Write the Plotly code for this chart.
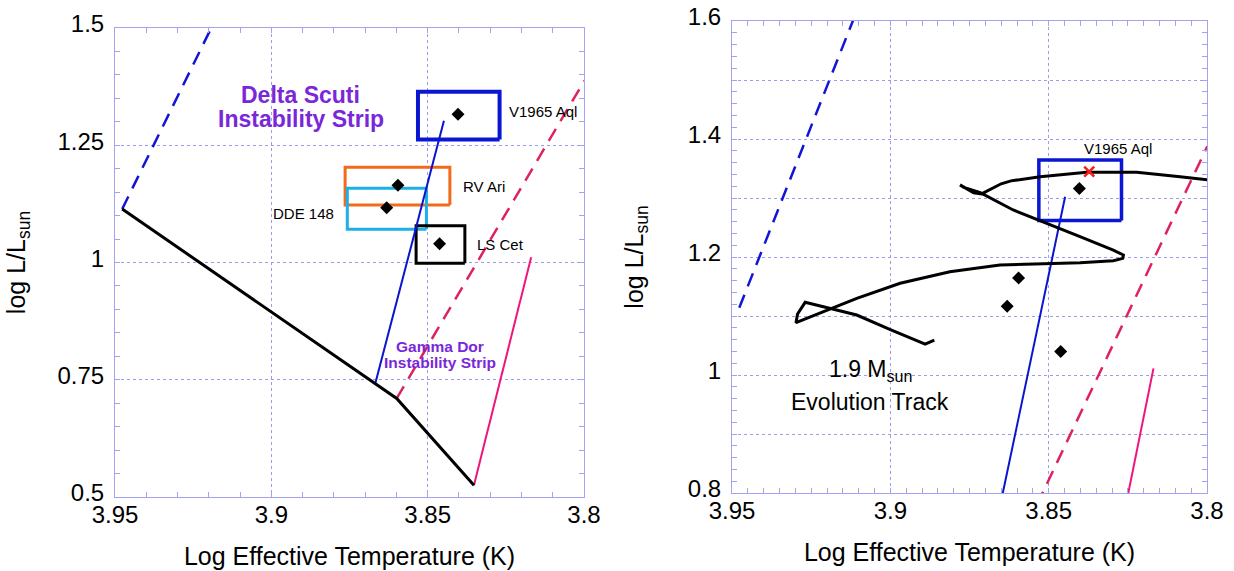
import plotly.graph_objects as go

# ---------------- data ----------------
star_names = ["V1965 Aql", "RV Ari", "DDE 148", "LS Cet"]
star_logT = [3.8403, 3.8595, 3.8631, 3.8462]
star_logL = [1.3160, 1.1646, 1.1165, 1.0398]

# error boxes (log Teff range, log L range)
box_Tlo = [3.8270, 3.8429, 3.8504, 3.8381]
box_Thi = [3.8531, 3.8764, 3.8757, 3.8537]
box_Llo = [1.2620, 1.1226, 1.0708, 0.9983]
box_Lhi = [1.3643, 1.2030, 1.1582, 1.0785]

# ZAMS
zams_T = [3.9477, 3.8668, 3.8599, 3.8352]
zams_L = [1.1140, 0.7410, 0.7102, 0.5250]
# Delta Scuti strip edges
ds_blue_T = [3.9477, 3.9100]
ds_blue_L = [1.1140, 1.6250]
ds_red_T = [3.8668, 3.8448]
ds_red_L = [0.7410, 1.3020]
# Gamma Dor strip edges
gd_blue_T = [3.8599, 3.7999]
gd_blue_L = [0.7102, 1.3875]
gd_red_T = [3.8352, 3.8169]
gd_red_L = [0.5250, 1.0113]

# 1.9 Msun evolution track
track_T = [3.8861, 3.8890, 3.9000, 3.9106, 3.9269, 3.9293, 3.9298, 3.9191,
           3.9106, 3.8969, 3.8812, 3.8654, 3.8506, 3.8401, 3.8296, 3.8266,
           3.8264, 3.8296, 3.8401, 3.8506, 3.8612, 3.8716, 3.8768, 3.8780,
           3.8737, 3.8712, 3.8688, 3.8650, 3.8619, 3.8527, 3.8380, 3.8222,
           3.8085, 3.7996]
track_L = [1.0593, 1.0525, 1.0770, 1.1017, 1.1232, 1.1034, 1.0886, 1.1113,
           1.1300, 1.1554, 1.1750, 1.1864, 1.1881, 1.1903, 1.1937, 1.1977,
           1.2034, 1.2118, 1.2344, 1.2571, 1.2797, 1.3090, 1.3179, 1.3222,
           1.3087, 1.3069, 1.3136, 1.3241, 1.3290, 1.3361, 1.3435, 1.3435,
           1.3361, 1.3305]
model_T = [3.8372]
model_L = [1.3446]

x_ticks = [3.95, 3.9, 3.85, 3.8]
x_ticktext = ["3.95", "3.9", "3.85", "3.8"]
yl_ticks = [0.5, 0.75, 1.0, 1.25, 1.5]
yl_ticktext = ["0.5", "0.75", "1", "1.25", "1.5"]
yr_ticks = [0.8, 0.9, 1.0, 1.1, 1.2, 1.3, 1.4, 1.5, 1.6]
yr_ticktext = ["0.8", "", "1", "", "1.2", "", "1.4", "", "1.6"]

# ---------------- styles ----------------
FONT = "Liberation Sans, Arial, Helvetica, sans-serif"
FRAME = "#a3a3f0"
GRID = "#9c9cec"
BLUE_D = "#1414d6"
BLUE = "#0a14cf"
PINK_D = "#de2260"
PINK = "#ef157c"
PURPLE = "#7a27da"
box_colors = ["#0b16d2", "#f26a1c", "#1cb0e6", "#000000"]
box_widths = [4, 3, 3, 3]

fig = go.Figure()

def add_line(T, L, color, width, dash, xa, ya):
    fig.add_trace(go.Scatter(x=T, y=L, mode="lines", xaxis=xa, yaxis=ya,
                             line=dict(color=color, width=width, dash=dash),
                             hoverinfo="skip", showlegend=False))

# ----- left panel -----
for i in range(len(star_names)):
    bx = [box_Tlo[i], box_Thi[i], box_Thi[i], box_Tlo[i], box_Tlo[i]]
    by = [box_Llo[i], box_Llo[i], box_Lhi[i], box_Lhi[i], box_Llo[i]]
    add_line(bx, by, box_colors[i], box_widths[i], "solid", "x", "y")
add_line(ds_blue_T, ds_blue_L, BLUE_D, 2.5, "14px,9px", "x", "y")
add_line(ds_red_T, ds_red_L, BLUE, 2, "solid", "x", "y")
add_line(gd_blue_T, gd_blue_L, PINK_D, 2.5, "14px,9px", "x", "y")
add_line(gd_red_T, gd_red_L, PINK, 2, "solid", "x", "y")
add_line(zams_T, zams_L, "black", 3, "solid", "x", "y")
fig.add_trace(go.Scatter(x=star_logT, y=star_logL, mode="markers", xaxis="x", yaxis="y",
                         marker=dict(symbol="diamond", size=10, color="black"),
                         showlegend=False))

# ----- right panel -----
add_line(ds_blue_T, ds_blue_L, BLUE_D, 2.5, "14px,9px", "x2", "y2")
add_line(ds_red_T, ds_red_L, BLUE, 2, "solid", "x2", "y2")
add_line(gd_blue_T, gd_blue_L, PINK_D, 2.5, "14px,9px", "x2", "y2")
add_line(gd_red_T, gd_red_L, PINK, 2, "solid", "x2", "y2")
bx = [box_Tlo[0], box_Thi[0], box_Thi[0], box_Tlo[0], box_Tlo[0]]
by = [box_Llo[0], box_Llo[0], box_Lhi[0], box_Lhi[0], box_Llo[0]]
add_line(bx, by, box_colors[0], 3.5, "solid", "x2", "y2")
add_line(track_T, track_L, "black", 3, "solid", "x2", "y2")
fig.add_trace(go.Scatter(x=star_logT, y=star_logL, mode="markers", xaxis="x2", yaxis="y2",
                         marker=dict(symbol="diamond", size=10, color="black"),
                         showlegend=False))
fig.add_trace(go.Scatter(x=model_T, y=model_L, mode="markers", xaxis="x2", yaxis="y2",
                         marker=dict(symbol="x-thin", size=10,
                                     line=dict(color="#ff1a1a", width=2.5)),
                         showlegend=False))

# ----- annotations -----
ann = []
def label(x, y, text, xa, ya, size, anchor="left", color="black"):
    ann.append(dict(x=x, y=y, xref=xa, yref=ya, text=text, showarrow=False,
                    xanchor=anchor, yanchor="middle",
                    font=dict(family=FONT, size=size, color=color)))

label(3.8247, 1.3216, star_names[0], "x", "y", 15)
label(3.8393, 1.1617, star_names[1], "x", "y", 15)
label(3.8793, 1.1049, star_names[2], "x", "y", 15, anchor="right")
label(3.8349, 1.0388, star_names[3], "x", "y", 15)
label(3.8906, 1.3565, "<b>Delta Scuti</b>", "x", "y", 23, "center", PURPLE)
label(3.8906, 1.3053, "<b>Instability Strip</b>", "x", "y", 23, "center", PURPLE)
label(3.8462, 0.8204, "<b>Gamma Dor</b>", "x", "y", 15.5, "center", PURPLE)
label(3.8462, 0.7863, "<b>Instability Strip</b>", "x", "y", 15.5, "center", PURPLE)
label(3.8281, 1.3842, star_names[0], "x2", "y2", 15, "center")
label(3.9064, 1.0070, "1.9 M<sub>sun</sub>", "x2", "y2", 23, "center")
label(3.9064, 0.9534, "Evolution Track", "x2", "y2", 23, "center")

W, H = 1234, 571
def xdom(a, b):
    return [a / W, b / W]
def ydom(top, bot):
    return [(H - bot) / H, (H - top) / H]

common_axis = dict(showline=True, linecolor=FRAME, linewidth=1, mirror="ticks",
                   ticks="inside", ticklen=5, tickcolor=FRAME, automargin=False,
                   showgrid=True, gridcolor=GRID, griddash="dot", gridwidth=1,
                   zeroline=False, tickfont=dict(family=FONT, size=24, color="black"),
                   title_font=dict(family=FONT, size=25, color="black"))

xaxis = dict(common_axis, domain=xdom(115, 584), range=[3.95, 3.8], anchor="y",
             tickmode="array", tickvals=x_ticks, ticktext=x_ticktext,
             ticklabelstandoff=-4,
             minor=dict(dtick=0.01, ticks="inside", ticklen=5, tickcolor=FRAME, showgrid=False),
             title=dict(text="Log Effective Temperature (K)", standoff=20))
yaxis = dict(common_axis, domain=ydom(28, 497), range=[0.5, 1.5], anchor="x",
             tickmode="array", tickvals=yl_ticks, ticktext=yl_ticktext,
             ticklabelshift=-4, ticklabelstandoff=5,
             minor=dict(dtick=0.05, ticks="inside", ticklen=5, tickcolor=FRAME, showgrid=False),
             title=dict(text="log L/L<sub>sun</sub>", standoff=24))
xaxis2 = dict(common_axis, domain=xdom(732, 1207), range=[3.95, 3.8], anchor="y2",
              tickmode="array", tickvals=x_ticks, ticktext=x_ticktext,
              ticklabelstandoff=-4,
              minor=dict(dtick=0.005, ticks="inside", ticklen=5, tickcolor=FRAME, showgrid=False),
              title=dict(text="Log Effective Temperature (K)", standoff=20))
yaxis2 = dict(common_axis, domain=ydom(21, 493), range=[0.8, 1.6], anchor="x2",
              tickmode="array", tickvals=yr_ticks, ticktext=yr_ticktext,
              ticklabelshift=-4, ticklabelstandoff=5,
              minor=dict(dtick=0.02, ticks="inside", ticklen=5, tickcolor=FRAME, showgrid=False),
              title=dict(text="log L/L<sub>sun</sub>", standoff=37))

fig.update_layout(width=W, height=H, autosize=False,
                  margin=dict(l=0, r=0, t=0, b=0),
                  paper_bgcolor="white", plot_bgcolor="white",
                  showlegend=False, font=dict(family=FONT),
                  xaxis=xaxis, yaxis=yaxis, xaxis2=xaxis2, yaxis2=yaxis2,
                  annotations=ann)

fig.write_html("out.html")
